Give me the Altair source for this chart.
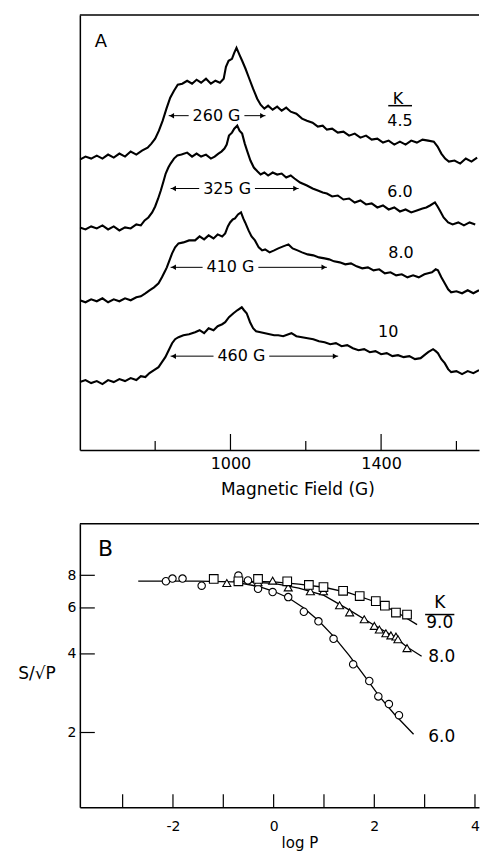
import altair as alt
import pandas as pd

FONT = "DejaVu Sans"

# ---------------- Panel A : EPR spectra (field in G, signal in arbitrary offset units) ----------------
f45 = [600,615,630,645,660,675,690,705,720,735,750,765,780,790,800,810,820,830,840,850,
       860,872,885,898,910,922,935,948,960,972,982,988,995,1004,1010,1016,1024,1031,1040,1049,
       1060,1071,1080,1090,1100,1112,1124,1136,1148,1160,1175,1190,1203,1218,1232,1245,1256,1270,1285,1300,
       1315,1330,1345,1360,1375,1390,1405,1420,1435,1450,1465,1480,1495,1510,1525,1540,1550,1560,1570,1580,
       1595,1610,1625,1640,1655,1670,1681]
s45 = [291,294,292,295,292,296,293,297,294,299,296,300,303,307,312,320,330,342,353,360,
       366,367,370,367,371,368,372,367,370,368,372,384,390,392,398,403,396,390,382,373,
       362,352,346,342,345,341,344,340,343,339,337,332,330,328,324,325,321,322,318,319,
       315,317,313,315,311,312,308,310,306,309,306,310,308,311,310,309,304,297,292,289,
       290,287,292,289,293,290,293]

f60 = [600,615,630,645,660,675,690,705,720,735,750,762,772,782,792,800,808,815,822,828,
       835,841,850,859,870,885,898,910,922,935,948,958,968,976,984,990,996,1004,1010,1018,
       1024,1031,1038,1044,1053,1062,1072,1080,1090,1100,1112,1124,1136,1148,1160,1170,1185,1203,1218,1232,
       1245,1256,1270,1285,1300,1315,1330,1345,1360,1375,1390,1405,1420,1435,1450,1465,1480,1495,1510,1520,
       1530,1543,1550,1556,1566,1578,1590,1605,1620,1635,1650,1665,1681]
s60 = [223,221,224,222,225,221,224,220,223,222,226,225,230,233,238,244,252,260,269,277,
       283,287,292,295,296,298,294,297,294,296,292,294,297,299,302,306,315,318,322,325,
       320,317,307,300,290,283,279,276,278,275,278,276,277,273,275,272,268,265,262,260,
       258,257,254,255,251,252,248,250,246,247,243,245,241,243,239,241,238,240,242,243,
       245,248,244,240,233,228,226,228,225,228,226,229,227]

f80 = [600,615,630,645,660,675,690,705,720,735,750,762,774,785,797,809,818,826,831,838,
       845,853,862,875,890,906,918,930,942,955,966,978,986,993,999,1006,1012,1020,1028,1034,
       1039,1048,1056,1065,1075,1084,1092,1104,1116,1127,1140,1154,1165,1178,1190,1205,1220,1235,1250,1262,
       1275,1290,1305,1320,1335,1350,1365,1380,1395,1410,1425,1440,1455,1470,1485,1500,1515,1525,1535,1545,
       1551,1560,1569,1578,1586,1600,1615,1630,1645,1660,1681]
s80 = [150,148,151,149,152,148,151,149,152,150,153,154,157,160,163,167,173,179,183,190,
       197,203,207,208,210,210,214,211,215,212,216,214,217,224,228,231,232,236,238,232,
       228,220,214,210,203,200,201,198,200,202,204,206,202,200,198,196,195,193,192,191,
       189,188,186,187,184,182,183,180,181,177,178,175,176,173,175,173,176,177,178,181,
       180,173,167,161,158,159,157,160,157,160,160]

f10 = [600,615,630,645,660,675,690,705,720,735,750,762,774,785,797,809,818,827,836,845,
       853,862,875,890,906,918,930,942,955,966,978,986,996,1008,1018,1030,1036,1043,1052,1060,
       1068,1080,1092,1104,1116,1127,1140,1154,1162,1175,1190,1205,1220,1235,1250,1265,1280,1295,1310,1325,
       1340,1355,1370,1385,1400,1415,1430,1445,1460,1475,1490,1505,1515,1525,1538,1545,1551,1560,1569,1578,
       1586,1600,1615,1630,1645,1660,1681]
s10 = [68,70,67,69,66,70,68,71,69,72,70,74,73,77,80,83,88,93,100,107,
       111,113,115,116,118,120,117,122,120,124,126,128,133,137,140,143,140,137,128,122,
       119,118,117,116,115,115,114,116,117,114,113,112,111,109,108,106,107,104,105,102,
       100,101,98,99,96,97,94,95,93,94,91,92,95,98,101,99,97,91,87,81,
       78,79,76,79,77,80,79]

spectra = [("4.5", f45, s45), ("6.0", f60, s60), ("8.0", f80, s80), ("10", f10, s10)]

# width arrows
arr_label = ["260 G", "325 G", "410 G", "460 G"]
arr_left = [836, 841, 841, 841]
arr_right = [1093, 1181, 1256, 1286]
arr_level = [335, 262, 183, 94]
arr_center = [963, 991, 1000, 1029]

# K labels in panel A
ka_text = ["4.5", "6.0", "8.0", "10"]
ka_field = [1450, 1450, 1453, 1419]
ka_level = [330, 258, 197, 118]
ka_head = {"gauss": 1445, "level": 352, "ul_from": 1419, "ul_to": 1482, "ul_level": 345}
a_letter = {"gauss": 656, "level": 409}

major_a = [1000, 1400]
minor_a = [800, 1200, 1600]

# ---------------- Panel B : S/sqrt(P) vs log P ----------------
c60_logp = [-2.14, -2.01, -1.81, -1.43, -0.70, -0.51, -0.31, -0.02, 0.29, 0.60, 0.89, 1.19, 1.58, 1.90, 2.08, 2.29, 2.49]
c60_s = [7.59, 7.77, 7.77, 7.30, 7.98, 7.65, 7.10, 6.90, 6.60, 5.80, 5.33, 4.57, 3.65, 3.15, 2.75, 2.57, 2.33]
c80_logp = [-0.93, -0.31, -0.02, 0.29, 0.73, 0.99, 1.31, 1.51, 1.80, 2.00, 2.10, 2.23, 2.33, 2.43, 2.47, 2.65]
c80_s = [7.47, 7.52, 7.63, 7.19, 6.95, 6.95, 6.14, 5.77, 5.43, 5.12, 4.96, 4.80, 4.71, 4.66, 4.55, 4.21]
c90_logp = [-1.19, -0.70, -0.31, 0.27, 0.70, 0.99, 1.38, 1.71, 2.03, 2.21, 2.43, 2.65]
c90_s = [7.75, 7.59, 7.75, 7.59, 7.35, 7.21, 6.98, 6.66, 6.37, 6.12, 5.76, 5.66]

fit60_logp = [-2.69, -1.5, -0.8, -0.3, 0.0, 0.3, 0.6, 0.9, 1.2, 1.5, 1.8, 2.1, 2.4, 2.78]
fit60_s = [7.6, 7.6, 7.55, 7.25, 6.95, 6.55, 6.0, 5.35, 4.65, 3.95, 3.3, 2.75, 2.35, 1.97]
fit80_logp = [-0.8, 0.0, 0.5, 1.0, 1.5, 2.0, 2.4, 2.65, 2.94]
fit80_s = [7.6, 7.45, 7.15, 6.7, 5.9, 5.15, 4.65, 4.25, 3.92]
fit90_logp = [-0.8, 0.0, 0.5, 1.0, 1.5, 2.0, 2.4, 2.85]
fit90_s = [7.6, 7.55, 7.4, 7.2, 6.85, 6.35, 5.85, 5.18]

kb_text = ["9.0", "8.0", "6.0"]
kb_logp = [3.30, 3.34, 3.34]
kb_s = [5.27, 3.88, 1.92]
kb_head = {"logp": 3.30, "s": 6.29, "ul_from": 3.01, "ul_to": 3.59, "ul_s": 5.66}
b_letter = {"logp": -3.34, "s": 10.05}

ticks_bx = [-3, -2, -1, 0, 1, 2, 3, 4]
labels_bx = [-2, 0, 2, 4]
ticks_by = [2, 4, 6, 8]

# ---------------- build data frames ----------------
spec_df = pd.DataFrame([{"K": k, "gauss": f, "sig": s}
                        for k, fl, sl in spectra for f, s in zip(fl, sl)])
GAP = 74
arr_df = pd.DataFrame({"label": arr_label, "left": arr_left, "right": arr_right,
                       "level": arr_level, "center": arr_center})
arr_df["l_end"] = arr_df["center"] - GAP
arr_df["r_start"] = arr_df["center"] + GAP
ka_df = pd.DataFrame({"t": ka_text, "gauss": ka_field, "level": ka_level})
one = pd.DataFrame({"a": [0]})

pts_df = pd.DataFrame(
    [{"K": "6.0", "logp": x, "s": y} for x, y in zip(c60_logp, c60_s)] +
    [{"K": "8.0", "logp": x, "s": y} for x, y in zip(c80_logp, c80_s)] +
    [{"K": "9.0", "logp": x, "s": y} for x, y in zip(c90_logp, c90_s)])
fit_df = pd.DataFrame(
    [{"K": "6.0", "logp": x, "s": y} for x, y in zip(fit60_logp, fit60_s)] +
    [{"K": "8.0", "logp": x, "s": y} for x, y in zip(fit80_logp, fit80_s)] +
    [{"K": "9.0", "logp": x, "s": y} for x, y in zip(fit90_logp, fit90_s)])
kb_df = pd.DataFrame({"t": kb_text, "logp": kb_logp, "s": kb_s})

# ---------------- Panel A ----------------
WA, HA = 400, 436
XMAX_A = 1660
xsA = alt.Scale(domain=[600, XMAX_A], nice=False, zero=False)
ysA = alt.Scale(domain=[0, 436], nice=False, zero=False)

xaxisA = alt.Axis(values=major_a, format="d", ticks=False, tickSize=0, grid=False,
                  labelFontSize=16, labelPadding=6, domainColor="black", domainWidth=1.5,
                  title="Magnetic Field (G)", titleFontSize=17, titleFontWeight="normal",
                  titleX=218, titleY=40, titleBaseline="middle", titleAlign="center")
yaxisA = alt.Axis(labels=False, ticks=False, tickSize=0, grid=False, title="",
                  domainColor="black", domainWidth=1.5)


def XA(f):
    return alt.X(f, scale=xsA, axis=xaxisA)


def YA(f):
    return alt.Y(f, scale=ysA, axis=yaxisA)


lines_a = alt.Chart(spec_df).transform_filter(alt.datum.gauss <= XMAX_A).mark_line(
    color="black", strokeWidth=2.1, clip=True).encode(
    x=XA("gauss:Q"), y=YA("sig:Q"), detail="K:N")

tick_major_a = alt.Chart(pd.DataFrame({"gauss": major_a})).mark_rule(color="black", strokeWidth=1.2).encode(
    x=XA("gauss:Q"), y=alt.value(HA), y2=alt.value(HA - 16))
tick_minor_a = alt.Chart(pd.DataFrame({"gauss": minor_a})).mark_rule(color="black", strokeWidth=1.2).encode(
    x=XA("gauss:Q"), y=alt.value(HA), y2=alt.value(HA - 9))
top_a = alt.Chart(one).mark_rule(color="black", strokeWidth=1.5).encode(
    x=alt.value(0), x2=alt.value(WA), y=alt.value(0))
pin_a = alt.Chart(one).mark_rule(color="white", strokeWidth=1).encode(
    x=alt.value(-71), x2=alt.value(-69), y=alt.value(-5))

seg_l = alt.Chart(arr_df).mark_rule(color="black", strokeWidth=1).encode(
    x=XA("left:Q"), x2="l_end:Q", y=YA("level:Q"))
seg_r = alt.Chart(arr_df).mark_rule(color="black", strokeWidth=1).encode(
    x=XA("r_start:Q"), x2="right:Q", y=YA("level:Q"))
head_l = alt.Chart(arr_df).mark_point(shape="triangle-left", filled=True, color="black",
                                      size=30, opacity=1, xOffset=3).encode(
    x=XA("left:Q"), y=YA("level:Q"))
head_r = alt.Chart(arr_df).mark_point(shape="triangle-right", filled=True, color="black",
                                      size=30, opacity=1, xOffset=-3).encode(
    x=XA("right:Q"), y=YA("level:Q"))
arr_txt = alt.Chart(arr_df).mark_text(fontSize=16, baseline="middle", align="center").encode(
    x=XA("center:Q"), y=YA("level:Q"), text="label:N")

ka_txt = alt.Chart(ka_df).mark_text(fontSize=16, baseline="middle", align="center").encode(
    x=XA("gauss:Q"), y=YA("level:Q"), text="t:N")
ka_k = alt.Chart(pd.DataFrame([ka_head])).mark_text(text="K", fontSize=16, baseline="middle").encode(
    x=XA("gauss:Q"), y=YA("level:Q"))
ka_ul = alt.Chart(pd.DataFrame([ka_head])).mark_rule(color="black", strokeWidth=1.5).encode(
    x=XA("ul_from:Q"), x2="ul_to:Q", y=YA("ul_level:Q"))
a_txt = alt.Chart(pd.DataFrame([a_letter])).mark_text(text="A", fontSize=18, baseline="middle").encode(
    x=XA("gauss:Q"), y=YA("level:Q"))

panel_a = alt.layer(lines_a, tick_major_a, tick_minor_a, top_a, pin_a, seg_l, seg_r,
                    head_l, head_r, arr_txt, ka_txt, ka_k, ka_ul, a_txt).properties(width=WA, height=HA)

# ---------------- Panel B ----------------
WB, HB = 400, 284
xsB = alt.Scale(domain=[-3.85, 4.08], nice=False, zero=False)
ysB = alt.Scale(type="log", domain=[1.035, 12.6], nice=False)

xaxisB = alt.Axis(values=labels_bx, labelExpr="'' + datum.value", ticks=False, tickSize=0, grid=False,
                  labelFontSize=14, labelPadding=12, domainColor="black", domainWidth=1.5,
                  title="log P", titleFontSize=15, titleFontWeight="normal",
                  titleX=220, titleY=35, titleBaseline="middle", titleAlign="center")
yaxisB = alt.Axis(values=ticks_by, format="d", ticks=False, tickSize=0, grid=False,
                  labelFontSize=14, labelPadding=4, domainColor="black", domainWidth=1.5, title="")


def XB(f):
    return alt.X(f, scale=xsB, axis=xaxisB)


def YB(f):
    return alt.Y(f, scale=ysB, axis=yaxisB)


fits = alt.Chart(fit_df).mark_line(color="black", strokeWidth=1.3).encode(
    x=XB("logp:Q"), y=YB("s:Q"), detail="K:N")
pts = alt.Chart(pts_df).mark_point(filled=True, fill="white", stroke="black", strokeWidth=1.1,
                                   opacity=1).encode(
    x=XB("logp:Q"), y=YB("s:Q"),
    shape=alt.Shape("K:N", scale=alt.Scale(domain=["6.0", "8.0", "9.0"],
                                           range=["circle", "triangle-up", "square"]), legend=None),
    size=alt.Size("K:N", scale=alt.Scale(domain=["6.0", "8.0", "9.0"], range=[55, 75, 55]), legend=None))

tick_bx = alt.Chart(pd.DataFrame({"logp": ticks_bx})).mark_rule(color="black", strokeWidth=1.2).encode(
    x=XB("logp:Q"), y=alt.value(HB), y2=alt.value(HB - 13))
tick_by = alt.Chart(pd.DataFrame({"s": ticks_by})).mark_rule(color="black", strokeWidth=1.2).encode(
    y=YB("s:Q"), x=alt.value(0), x2=alt.value(15))
top_b = alt.Chart(one).mark_rule(color="black", strokeWidth=1.5).encode(
    x=alt.value(0), x2=alt.value(WB), y=alt.value(0))

kb_txt = alt.Chart(kb_df).mark_text(fontSize=17, baseline="middle", align="center").encode(
    x=XB("logp:Q"), y=YB("s:Q"), text="t:N")
kb_k = alt.Chart(pd.DataFrame([kb_head])).mark_text(text="K", fontSize=17, baseline="middle").encode(
    x=XB("logp:Q"), y=YB("s:Q"))
kb_ul = alt.Chart(pd.DataFrame([kb_head])).mark_rule(color="black", strokeWidth=1.5).encode(
    x=XB("ul_from:Q"), x2="ul_to:Q", y=YB("ul_s:Q"))
b_txt = alt.Chart(pd.DataFrame([b_letter])).mark_text(text="B", fontSize=22, baseline="middle").encode(
    x=XB("logp:Q"), y=YB("s:Q"))
ytitle_b = alt.Chart(one).mark_text(text="S/\u221aP", fontSize=17, baseline="middle", align="center").encode(
    x=alt.value(-43), y=alt.value(151))

panel_b = alt.layer(fits, pts, tick_bx, tick_by, top_b, kb_txt, kb_k, kb_ul, b_txt, ytitle_b).properties(
    width=WB, height=HB)

chart = alt.vconcat(panel_a, panel_b, spacing=74, bounds="flush").properties(
    padding={"left": 0, "top": 0, "right": 0, "bottom": 0}
).configure_view(stroke=None).configure_axis(
    labelFont=FONT, titleFont=FONT, labelColor="black", titleColor="black"
).configure_text(font=FONT, color="black")

chart.save("out.html", embed_options={"renderer": "svg", "actions": False})
